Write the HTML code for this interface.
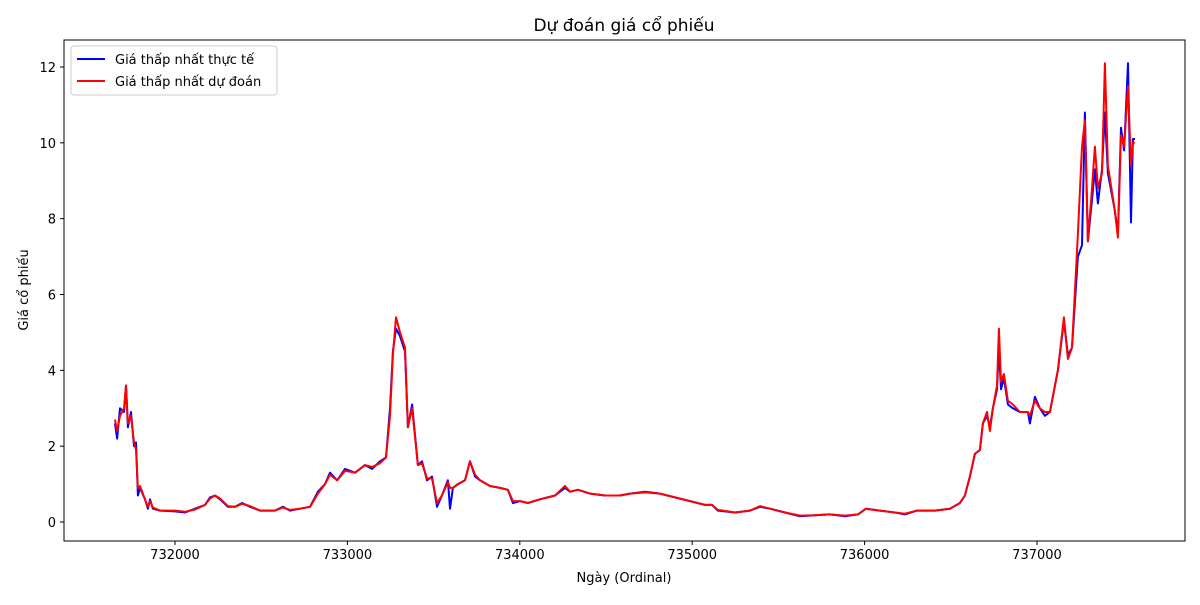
<!DOCTYPE html>
<html><head><meta charset="utf-8"><style>
body{margin:0;background:#fff;font-family:"Liberation Sans","DejaVu Sans",sans-serif}
svg text{font-family:"DejaVu Sans","Liberation Sans",sans-serif;fill:#000}
</style></head><body>
<svg id="c" width="1200" height="600"></svg>
<script>
const days=[731652,731664,731681,731704,731716,731727,731745,731762,731774,731785,731797,731826,731843,731855,731872,731913,732000,732058,732116,732174,732203,732232,732261,732307,732348,732389,732435,732493,732580,732626,732667,732725,732783,732829,732870,732899,732940,732986,733044,733102,733143,733189,733224,733247,733264,733282,733305,733334,733351,733375,733409,733433,733462,733491,733520,733548,733583,733595,733612,733641,733682,733711,733740,733769,733827,733885,733931,733960,734001,734047,734117,734204,734262,734291,734337,734407,734494,734581,734639,734726,734813,734900,734987,735074,735115,735149,735248,735335,735393,735451,735538,735625,735712,735799,735886,735961,736008,736089,736176,736234,736304,736408,736495,736553,736582,736611,736640,736669,736686,736710,736727,736744,736768,736779,736791,736808,736831,736860,736901,736947,736959,736988,737017,737046,737075,737121,737156,737179,737203,737237,737261,737278,737295,737319,737336,737353,737377,737394,737411,737452,737469,737487,737505,737528,737545,737556,737568];
const actual=[2.6,2.2,3.0,2.9,3.6,2.5,2.9,2.0,2.1,0.7,0.9,0.6,0.35,0.6,0.35,0.3,0.28,0.25,0.35,0.45,0.65,0.7,0.6,0.4,0.4,0.5,0.4,0.3,0.3,0.4,0.3,0.35,0.4,0.8,1.0,1.3,1.1,1.4,1.3,1.5,1.4,1.6,1.7,3.0,4.5,5.1,4.9,4.5,2.5,3.1,1.5,1.6,1.1,1.2,0.4,0.7,1.1,0.35,0.9,1.0,1.1,1.6,1.2,1.1,0.95,0.9,0.85,0.5,0.55,0.5,0.6,0.7,0.9,0.8,0.85,0.75,0.7,0.7,0.75,0.8,0.75,0.65,0.55,0.45,0.45,0.3,0.25,0.3,0.4,0.35,0.25,0.15,0.18,0.2,0.15,0.2,0.35,0.3,0.25,0.2,0.3,0.3,0.35,0.5,0.7,1.2,1.8,1.9,2.6,2.8,2.5,3.0,3.5,4.6,3.5,3.8,3.1,3.0,2.9,2.9,2.6,3.3,3.0,2.8,2.9,4.0,5.3,4.4,4.6,7.0,7.3,10.8,7.4,8.5,9.3,8.4,9.3,10.8,9.2,8.2,7.6,10.4,9.8,12.1,7.9,10.1,10.1];
const predicted=[2.7,2.4,2.8,3.0,3.6,2.6,2.8,2.1,1.9,0.9,0.95,0.6,0.4,0.55,0.38,0.3,0.3,0.27,0.33,0.45,0.62,0.7,0.62,0.42,0.4,0.48,0.42,0.3,0.3,0.38,0.32,0.35,0.4,0.75,1.0,1.25,1.1,1.35,1.3,1.5,1.45,1.55,1.7,2.8,4.4,5.4,5.0,4.6,2.5,3.0,1.5,1.55,1.15,1.15,0.5,0.7,1.05,0.9,0.9,1.0,1.1,1.6,1.25,1.1,0.95,0.9,0.85,0.55,0.55,0.5,0.6,0.7,0.95,0.8,0.85,0.75,0.7,0.7,0.75,0.78,0.75,0.65,0.55,0.45,0.45,0.32,0.25,0.3,0.42,0.35,0.25,0.17,0.18,0.2,0.17,0.2,0.35,0.3,0.25,0.22,0.3,0.3,0.35,0.5,0.7,1.2,1.8,1.9,2.6,2.9,2.4,3.0,3.6,5.1,3.7,3.9,3.2,3.1,2.9,2.9,2.8,3.2,3.0,2.9,2.9,4.0,5.4,4.3,4.6,7.6,9.9,10.6,7.4,8.8,9.9,8.8,9.2,12.1,9.4,8.2,7.5,10.2,9.9,11.5,9.4,10.0,10.0];
const xTicks=[732000,733000,734000,735000,736000,737000];
const yTicks=[0,2,4,6,8,10,12];

const NS="http://www.w3.org/2000/svg",svg=document.getElementById('c');
const L=64,R=1185,T=40,B=541;
const xs=v=>175+(v-732000)*862/5000;
const ys=v=>522-v*(522-67)/12;
function mk(t,a,p){const e=document.createElementNS(NS,t);for(const k in a)e.setAttribute(k,a[k]);(p||svg).appendChild(e);return e;}
let e=mk('rect',{x:L,y:T,width:R-L,height:B-T,fill:'none',stroke:'#000','stroke-width':1});


xTicks.forEach(v=>{const x=xs(v);mk('line',{x1:x,x2:x,y1:B,y2:B+4,stroke:'#000'});
 const t=mk('text',{x:x,y:B+18,'text-anchor':'middle','font-size':13});t.textContent=v;
 
 });
yTicks.forEach(v=>{const y=ys(v);mk('line',{x1:L-4,x2:L,y1:y,y2:y,stroke:'#000'});
 const t=mk('text',{x:L-8,y:y+5,'text-anchor':'end','font-size':13});t.textContent=v;
 
 });
function line(vals,color,name){const d=days.map((x,i)=>(i?'L':'M')+xs(x).toFixed(1)+','+ys(vals[i]).toFixed(1)).join('');
 const p=mk('path',{d:d,fill:'none',stroke:color,'stroke-width':2,'stroke-linejoin':'round'});
 
 }
line(actual,'#0000ff','actual-line');
line(predicted,'#ff0000','predicted-line');
let t=mk('text',{x:624,y:31,'text-anchor':'middle','font-size':17});t.textContent='Dự đoán giá cổ phiếu';


t=mk('text',{x:624,y:582,'text-anchor':'middle','font-size':13});t.textContent='Ngày (Ordinal)';


t=mk('text',{x:28,y:290,'text-anchor':'middle','font-size':13,transform:'rotate(-90 28 290)'});t.textContent='Giá cổ phiếu';


const g=mk('g',{});


mk('rect',{x:71,y:46,width:206,height:49,rx:3,fill:'#fff',stroke:'#ccc'},g);
[['Giá thấp nhất thực tế','#0000ff',59],['Giá thấp nhất dự đoán','#ff0000',81]].forEach(([s,c,y])=>{
 mk('line',{x1:77,x2:105,y1:y,y2:y,stroke:c,'stroke-width':2},g);
 const tx=mk('text',{x:115,y:y+5,'font-size':13},g);tx.textContent=s;
 
 });
</script>
</body></html>
